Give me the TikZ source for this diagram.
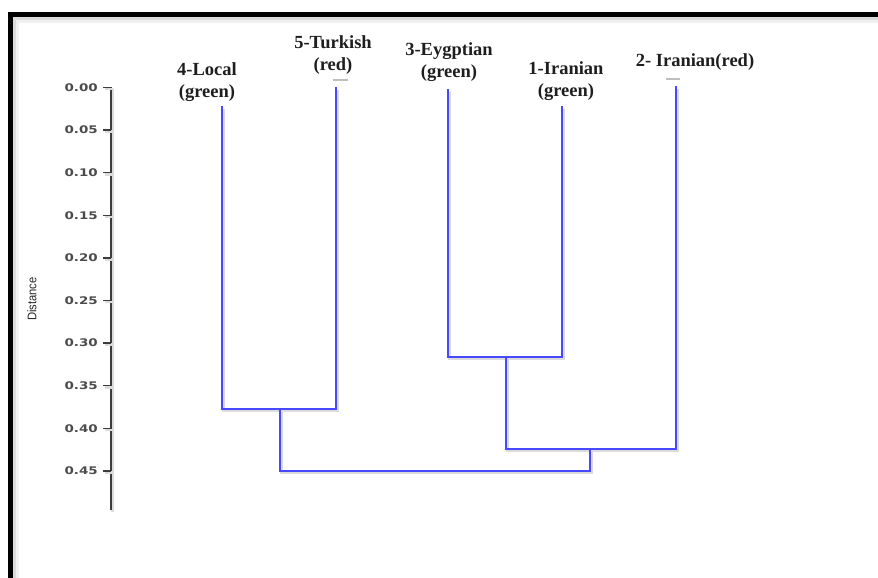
\documentclass[tikz,border=0pt]{standalone}
\usepackage{fontspec}
\setmainfont{Liberation Serif}
\newfontfamily\axisfont{DejaVu Sans}
\newfontfamily\titlefont{Liberation Sans}
\definecolor{treeblue}{RGB}{72,72,255}
\definecolor{axisgray}{RGB}{60,60,60}
\definecolor{ticktext}{RGB}{75,75,75}
\definecolor{leaftext}{RGB}{30,30,30}
\begin{document}
\begin{tikzpicture}[x=1pt,y=-1pt,
  softshadow/.style={preaction={draw=black!14, line width=2.6pt,
      transform canvas={xshift=1.6pt,yshift=-1.6pt}}},
  branch/.style={draw=treeblue, line width=2pt, line cap=rect, softshadow},
  axisline/.style={draw=axisgray, line width=1.5pt, softshadow},
  ticklabel/.style={font=\axisfont\bfseries\fontsize{10.5}{12}\selectfont,
      text=ticktext, anchor=east, inner sep=0pt, xscale=1.28},
  leaflabel/.style={font=\bfseries\fontsize{18.5}{22}\selectfont,
      text=leaftext, align=center, inner sep=0pt},
  smudge/.style={draw=black!25, line width=1.4pt},
  frameline/.style={draw=black, line width=4.5pt}]
  \useasboundingbox (0,0) rectangle (878,578);
  \clip (0,0) rectangle (878,578);

  % outer frame (runs off the right and bottom edges) with its soft inner shade
  \draw[draw=black!6, line width=3pt] (17.5,600) -- (17.5,21.5) -- (900,21.5);
  \draw[draw=black!14, line width=2.5pt] (14.5,600) -- (14.5,18.5) -- (900,18.5);
  \draw[frameline] (10.5,600) -- (10.5,14.5) -- (900,14.5);

  % distance axis
  \coordinate (axtop) at (111,87);
  \coordinate (axbot) at (111,510);
  \draw[axisline] (axtop) -- (axbot);
  \foreach \lab [count=\i from 0] in {0.00,0.05,0.10,0.15,0.20,0.25,0.30,0.35,0.40,0.45} {
    \pgfmathsetmacro{\yy}{87.5+42.6*\i}
    \coordinate (tk\i) at (111,\yy);
    \coordinate (tl\i) at (103,\yy);
    \draw[axisline] (tk\i) -- (tl\i);
    \node[ticklabel] (lab\i) at (98,\yy) {\lab};
  }
  \node[font=\titlefont\fontsize{12.5}{14}\selectfont, text=black!85, rotate=90,
        xscale=0.9, inner sep=0pt] (axtitle) at (32,299) {Distance};

  % leaf labels
  \node[leaflabel] (n4) at (207,82)  {4-Local\\(green)};
  \node[leaflabel] (n5) at (333,55)  {5-Turkish\\(red)};
  \node[leaflabel] (n3) at (449,62.5) {3-Eygptian\\(green)};
  \node[leaflabel] (n1) at (566,81.5) {1-Iranian\\(green)};
  \node[leaflabel] (n2) at (695,62)  {2- Iranian(red)};

  % small marks under two of the labels
  \coordinate (m5a) at (333,80);  \coordinate (m5b) at (348,80);
  \coordinate (m2a) at (666,79);  \coordinate (m2b) at (680,79);
  \draw[smudge] (m5a) -- (m5b);
  \draw[smudge] (m2a) -- (m2b);

  % leaf tips
  \coordinate (L4) at (222,107);
  \coordinate (L5) at (336,88);
  \coordinate (L3) at (448,90);
  \coordinate (L1) at (562,107);
  \coordinate (L2) at (676,87);

  % merge points
  \coordinate (j45)  at (280,409);
  \coordinate (j31)  at (506,357);
  \coordinate (j312) at (590,449);
  \coordinate (root) at (435,471);

  % dendrogram branches
  \draw[branch] (L4) |- (j45) -| (L5);
  \draw[branch] (L3) |- (j31) -| (L1);
  \draw[branch] (j31) |- (j312) -| (L2);
  \draw[branch] (j45) |- (root) -| (j312);
\end{tikzpicture}
\end{document}
